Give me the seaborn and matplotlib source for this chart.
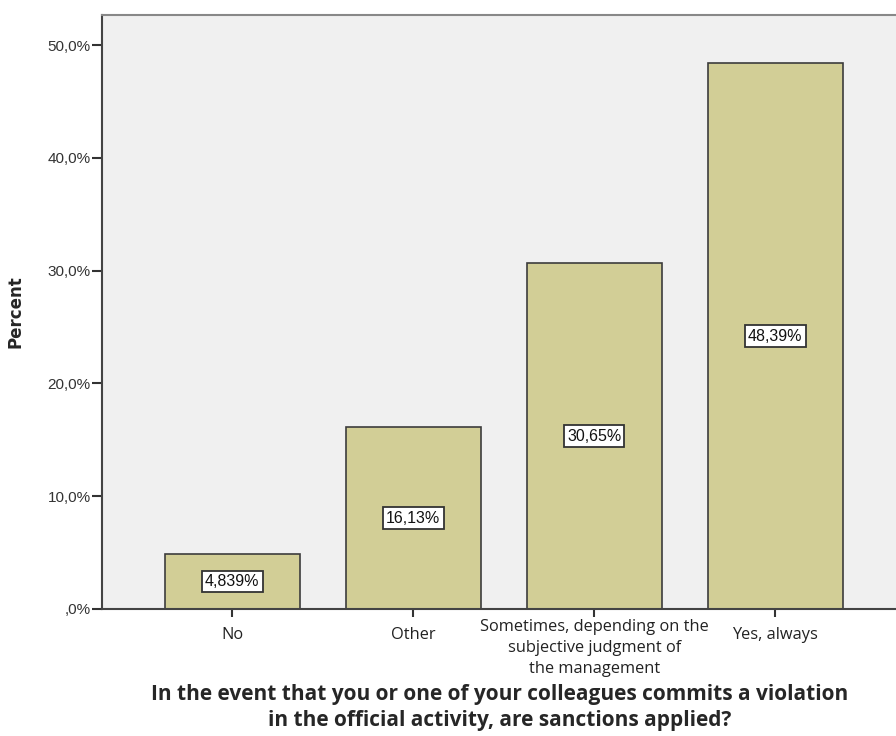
import pandas as pd
import matplotlib.pyplot as plt
import seaborn as sns

# Data
categories = ['No', 'Other', 'Sometimes, depending on the\nsubjective judgment of\nthe management', 'Yes, always']
percents = [4.839, 16.13, 30.65, 48.39]
value_labels = ['4,839%', '16,13%', '30,65%', '48,39%']
ytick_values = [0, 10, 20, 30, 40, 50]
ytick_labels = [',0%', '10,0%', '20,0%', '30,0%', '40,0%', '50,0%']

df = pd.DataFrame({'answer': categories, 'percent': percents})

sns.set_style('white')
plt.rcParams['font.family'] = ['Liberation Sans', 'DejaVu Sans']

fig = plt.figure(figsize=(8.96, 7.36), dpi=100)
ax = fig.add_axes([0.1138, 0.1726, 0.8862, 0.807])
ax.set_facecolor('#f0f0f0')

sns.barplot(data=df, x='answer', y='percent', color='#d2ce96', width=0.746,
            edgecolor='#3c3c3c', linewidth=1.2, saturation=1, ax=ax)

# value boxes in the middle of each bar
for i, (v, lab) in enumerate(zip(percents, value_labels)):
    ax.text(i, v / 2, lab, ha='center', va='center', fontsize=11.5, color='#111111',
            bbox=dict(boxstyle='square,pad=0.2', facecolor='white', edgecolor='#333333', linewidth=1.3))

ax.set_xlim(-0.72, 3.668)
ax.set_ylim(0, 52.66)
ax.set_yticks(ytick_values)
ax.set_yticklabels(ytick_labels, fontsize=11, color='#333333')
ax.tick_params(axis='y', direction='out', length=7, width=1.5, color='#333333', left=True, pad=1)
ax.tick_params(axis='x', direction='out', length=6, width=1.5, color='#333333', bottom=True, pad=1)
for lbl in ax.get_xticklabels():
    lbl.set_linespacing(1.45)
    lbl.set_fontsize(11.8)
    lbl.set_family(['Open Sans', 'DejaVu Sans'])
    lbl.set_color('#222222')
    if '\n' in lbl.get_text():
        lbl.set_verticalalignment('top')
    else:
        lbl.set_verticalalignment('center')
        lbl.set_y(-0.028)

for side in ['left', 'bottom', 'top']:
    ax.spines[side].set_visible(True)
    ax.spines[side].set_color('#444444')
    ax.spines[side].set_linewidth(1.5)
ax.spines['top'].set_color('#888888')
ax.spines['right'].set_visible(False)

ax.set_ylabel('Percent', fontsize=12, fontweight='bold', family=['DejaVu Sans'])
ax.yaxis.set_label_coords(-0.097, 0.5)
ax.set_xlabel('')
fig.text(0.5575, 0.007,
         'In the event that you or one of your colleagues commits a violation\nin the official activity, are sanctions applied?',
         ha='center', va='bottom', fontsize=15, fontweight='bold', family=['Open Sans', 'DejaVu Sans'],
         linespacing=1.3)

fig.savefig('out.png', dpi=100)
plt.close()
